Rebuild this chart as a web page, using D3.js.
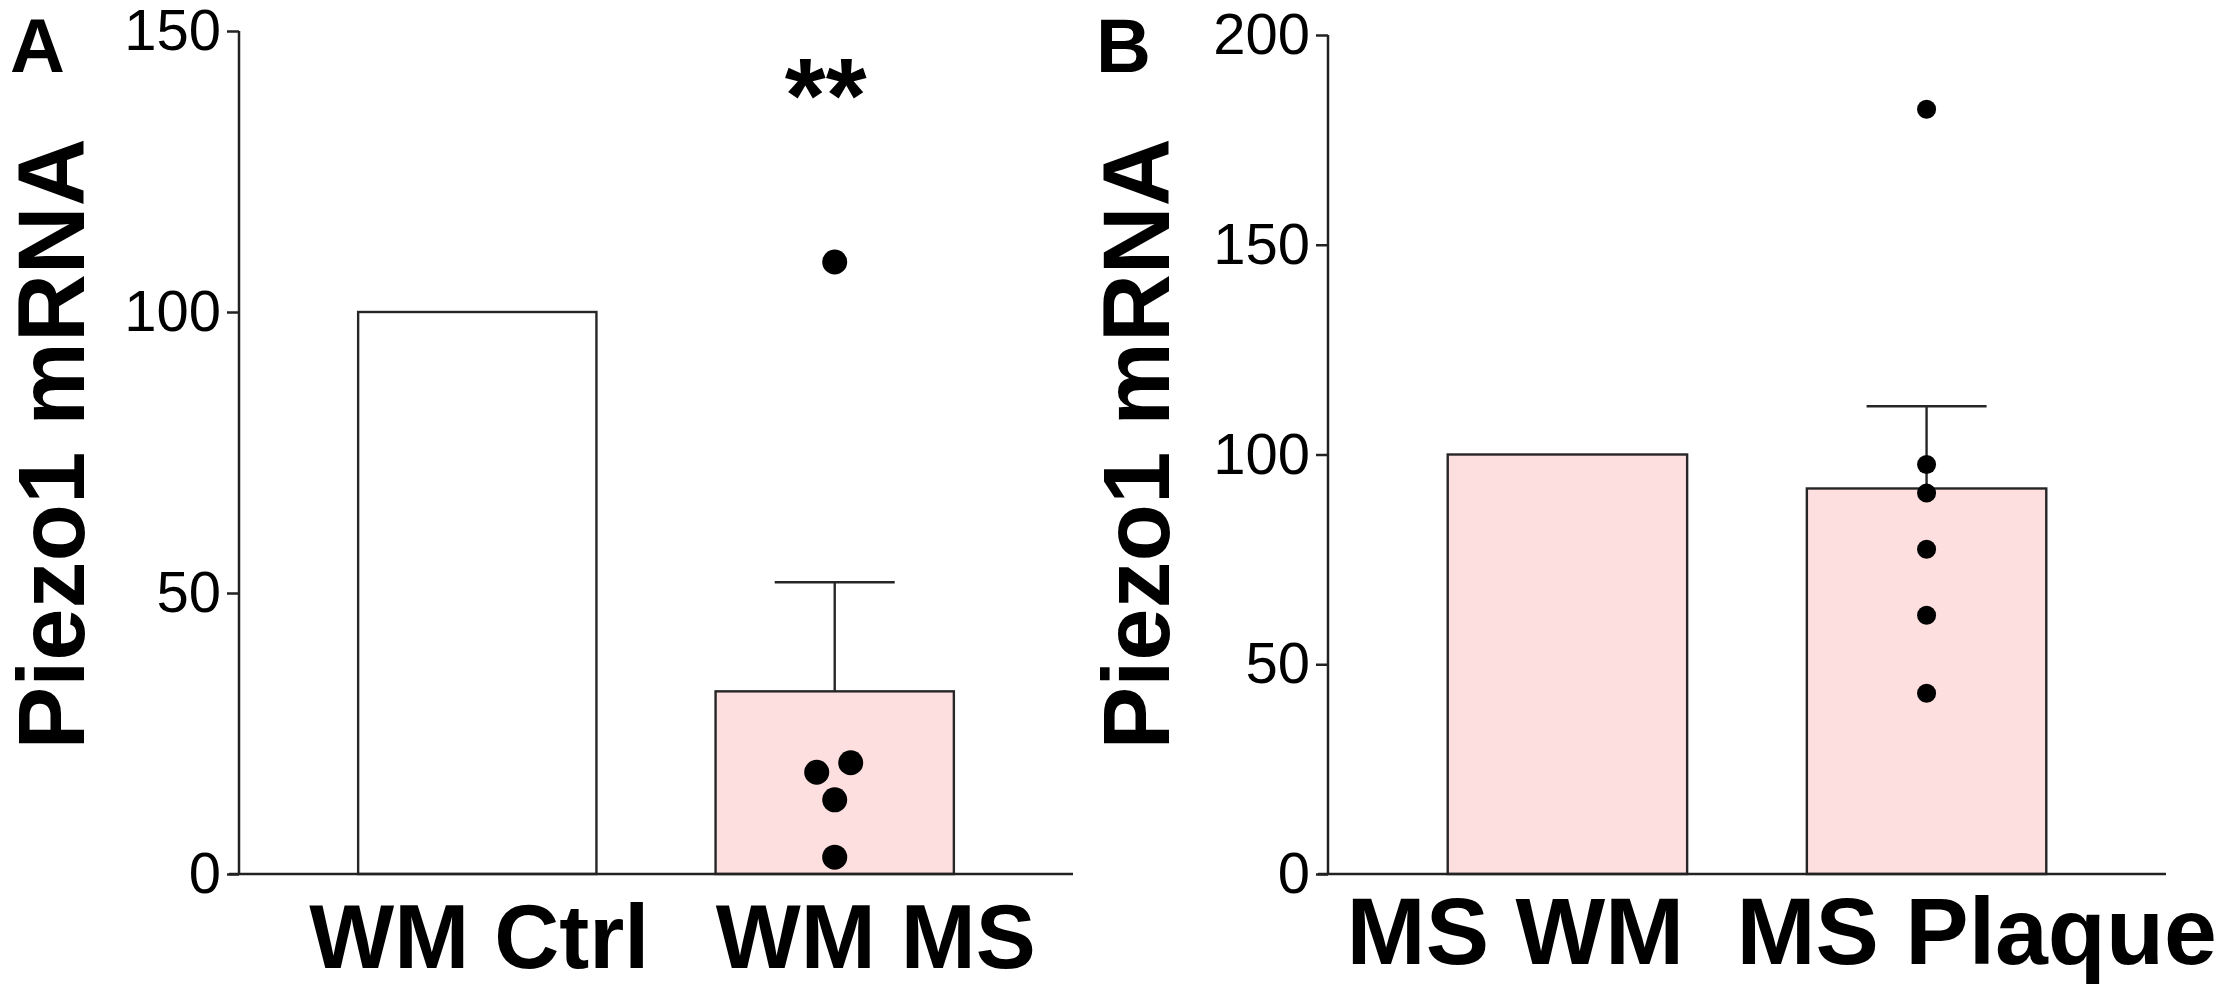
<!DOCTYPE html>
<html>
<head>
<meta charset="utf-8">
<script src="https://cdn.jsdelivr.net/npm/d3@7"></script>
<style>
  html, body { margin: 0; padding: 0; background: #fff; }
  svg { display: block; }
  text { font-family: "Liberation Sans", Arial, sans-serif; fill: #000; }
</style>
</head>
<body>
<svg id="chart" width="2228" height="994"></svg>
<script>
// ---------- Data ----------
const panelLabels = ["A", "B"];
const yTitle = "Piezo1 mRNA";

const categoriesA = ["WM Ctrl", "WM MS"];
const meansA = [100, 32.5];
const semA = [null, 19.4];
const pointsA = [[], [108.9, 18.1, 19.8, 13.2, 3.0]];
const pointsAJitter = [[], [0, -18, 16, 0, 0]];
const yTicksA = [0, 50, 100, 150];
const yMaxA = 150;
const signifA = ["", "**"];

const categoriesB = ["MS WM", "MS Plaque"];
const meansB = [100, 91.9];
const semB = [null, 19.6];
const pointsB = [[], [182.3, 97.6, 90.8, 77.4, 61.7, 43.1]];
const pointsBJitter = [[], [0, 0, 0, 0, 0, 0]];
const yTicksB = [0, 50, 100, 150, 200];
const yMaxB = 200;
const signifB = ["", ""];

// ---------- Styles ----------
const pink = "#fddfe0";
const fillsA = ["#ffffff", pink];
const fillsB = [pink, pink];

const svg = d3.select("#chart");

function drawPanel(cfg) {
  const g = svg.append("g");
  const y = d3.scaleLinear().domain([0, cfg.yMax]).range([cfg.y0, cfg.yTop]);
  const x = d3.scaleBand().domain(cfg.categories).range([cfg.xStart, cfg.xEnd])
              .paddingInner(cfg.padIn).paddingOuter(cfg.padOut);

  // bars
  g.selectAll("rect.bar").data(cfg.categories).join("rect")
    .attr("class", "bar")
    .attr("x", d => x(d))
    .attr("width", x.bandwidth())
    .attr("y", (d, i) => y(cfg.means[i]))
    .attr("height", (d, i) => y(0) - y(cfg.means[i]))
    .attr("fill", (d, i) => cfg.fills[i])
    .attr("stroke", "#262626")
    .attr("stroke-width", 2.4);

  // error bars (upper only)
  cfg.categories.forEach((c, i) => {
    if (cfg.sem[i] == null) return;
    const cx = x(c) + x.bandwidth() / 2;
    const top = y(cfg.means[i] + cfg.sem[i]);
    g.append("line").attr("x1", cx).attr("x2", cx)
      .attr("y1", y(cfg.means[i])).attr("y2", top)
      .attr("stroke", "#262626").attr("stroke-width", 2.4);
    g.append("line").attr("x1", cx - cfg.capHalf).attr("x2", cx + cfg.capHalf)
      .attr("y1", top).attr("y2", top)
      .attr("stroke", "#262626").attr("stroke-width", 2.4);
  });

  // points
  cfg.categories.forEach((c, i) => {
    const cx = x(c) + x.bandwidth() / 2;
    g.selectAll(null).data(cfg.points[i]).join("circle")
      .attr("cx", (d, j) => cx + cfg.jitter[i][j])
      .attr("cy", d => y(d))
      .attr("r", cfg.dotR)
      .attr("fill", "#000");
  });

  // significance
  cfg.categories.forEach((c, i) => {
    if (!cfg.signif[i]) return;
    g.append("text")
      .attr("x", x(c) + x.bandwidth() / 2 - 9)
      .attr("y", cfg.signifY)
      .attr("text-anchor", "middle")
      .attr("font-weight", "bold")
      .attr("font-size", 105)
      .text(cfg.signif[i]);
  });

  // y axis
  const yAxis = d3.axisLeft(y).tickValues(cfg.yTicks).tickSize(12).tickPadding(6)
    .tickFormat(d3.format("d"));
  const ay = g.append("g").attr("transform", `translate(${cfg.xStart},0)`).call(yAxis);
  ay.select(".domain").attr("stroke", "#222").attr("stroke-width", 2.5)
    .attr("d", `M0,${y(cfg.yMax)}V${y(0)}`);
  ay.selectAll(".tick line").attr("stroke", "#222").attr("stroke-width", 2.5);
  ay.selectAll(".tick text").attr("font-size", 58).attr("fill", "#000")
    .attr("font-family", "Liberation Sans, Arial, sans-serif");

  // x axis baseline
  g.append("line")
    .attr("x1", cfg.xStart - 10).attr("x2", cfg.xAxisEnd)
    .attr("y1", y(0)).attr("y2", y(0))
    .attr("stroke", "#222").attr("stroke-width", 2.5);

  // x category labels
  g.selectAll("text.cat").data(cfg.categories).join("text")
    .attr("class", "cat")
    .attr("x", (d, i) => x(d) + x.bandwidth() / 2 + cfg.labelDx[i])
    .attr("y", cfg.labelY)
    .attr("text-anchor", "middle")
    .attr("font-weight", "bold")
    .attr("font-size", cfg.labelSize)
    .text(d => d);

  // y title
  g.append("text")
    .attr("transform", `translate(${cfg.titleX},${cfg.titleY}) rotate(-90)`)
    .attr("text-anchor", "middle")
    .attr("font-weight", "bold")
    .attr("font-size", 94)
    .text(yTitle);

  // panel letter
  g.append("text")
    .attr("x", cfg.letterX).attr("y", 72)
    .attr("font-weight", "bold")
    .attr("font-size", 76)
    .text(cfg.letter);
}

drawPanel({
  letter: panelLabels[0], letterX: 10,
  categories: categoriesA, means: meansA, sem: semA, points: pointsA, jitter: pointsAJitter,
  yTicks: yTicksA, yMax: yMaxA, signif: signifA, fills: fillsA,
  y0: 874, yTop: 31,
  xStart: 239, xEnd: 1073, padIn: 1 / 3, padOut: 1 / 3, xAxisEnd: 1073,
  capHalf: 60, dotR: 12.5, signifY: 132,
  labelY: 968, labelDx: [2, 41], labelSize: 90,
  titleX: 84, titleY: 444
});

drawPanel({
  letter: panelLabels[1], letterX: 1096,
  categories: categoriesB, means: meansB, sem: semB, points: pointsB, jitter: pointsBJitter,
  yTicks: yTicksB, yMax: yMaxB, signif: signifB, fills: fillsB,
  y0: 874, yTop: 35,
  xStart: 1328, xEnd: 2166, padIn: 1 / 3, padOut: 1 / 3, xAxisEnd: 2166,
  capHalf: 60, dotR: 9.5, signifY: 0,
  labelY: 964, labelDx: [-52, 50], labelSize: 95,
  titleX: 1169, titleY: 444
});
</script>
</body>
</html>
